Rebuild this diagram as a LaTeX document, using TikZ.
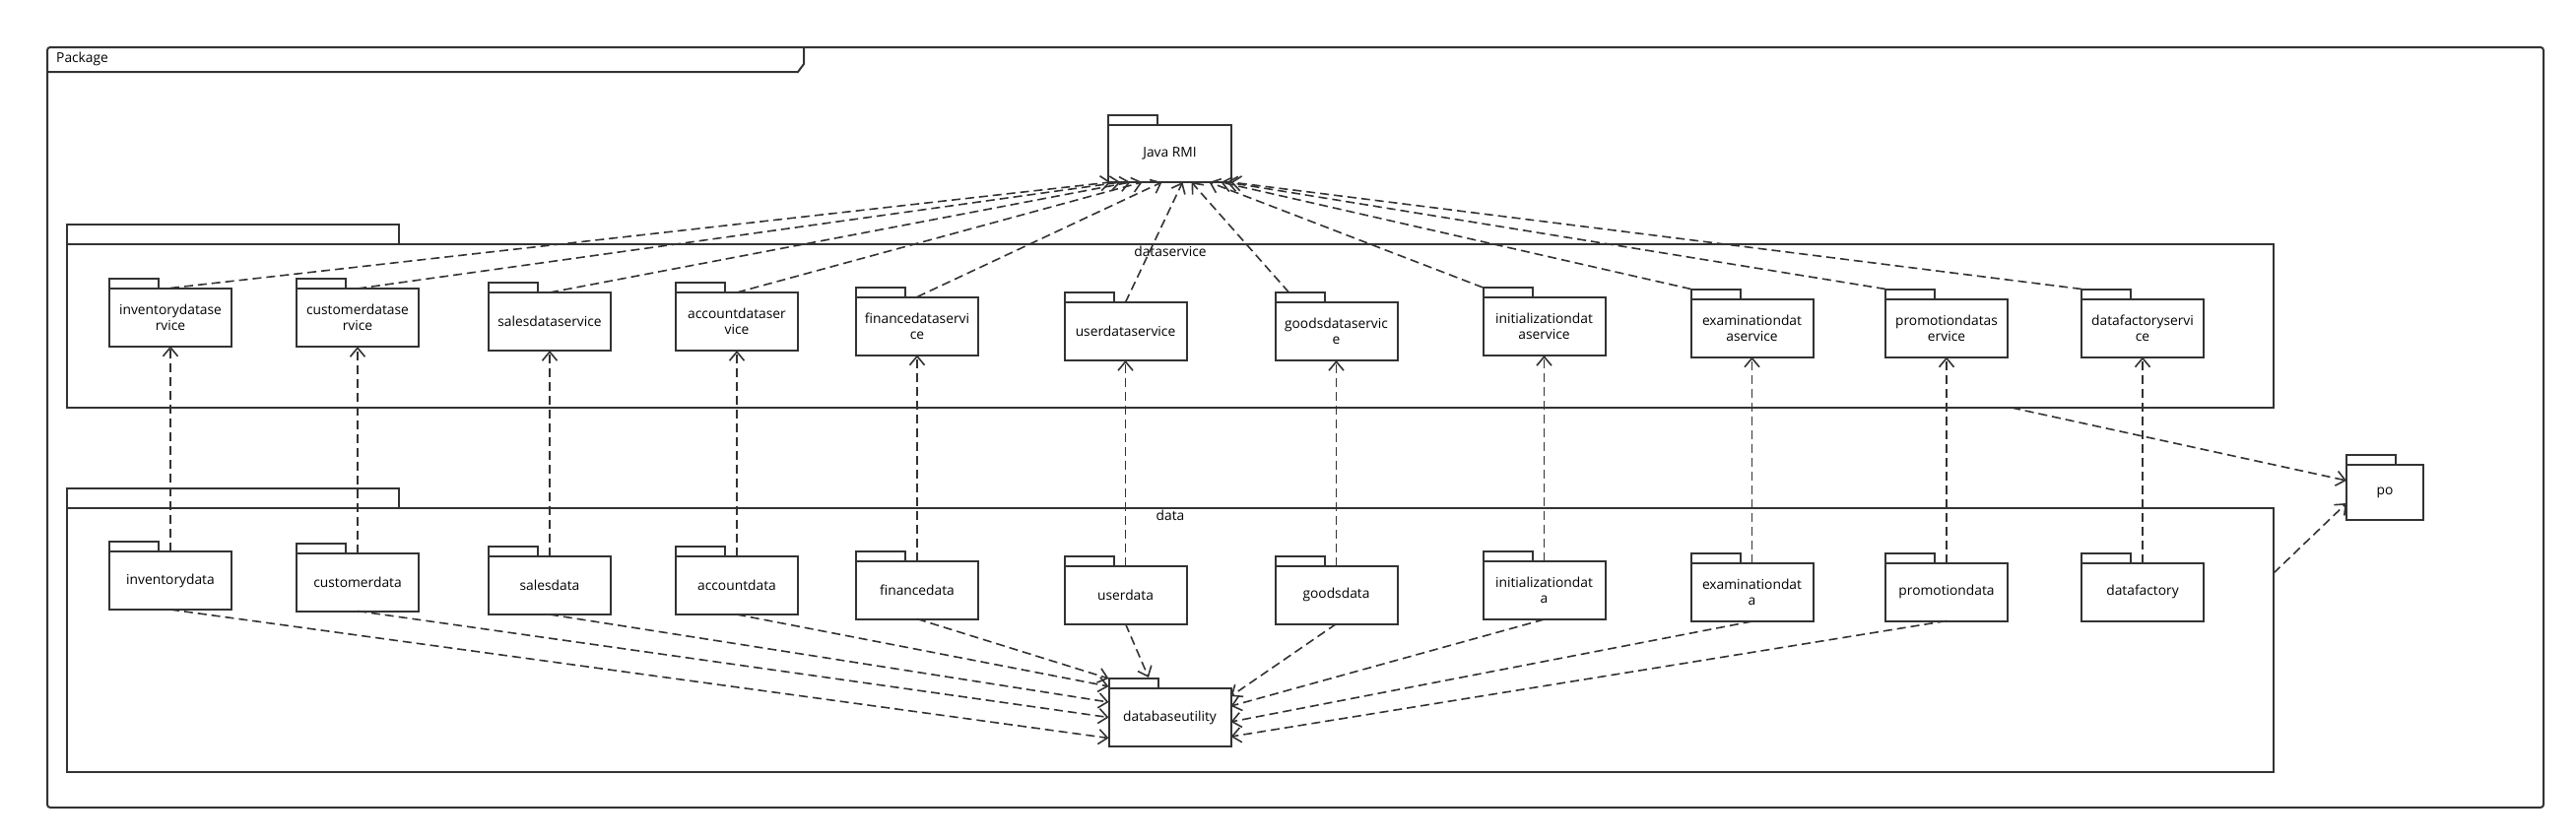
\documentclass[tikz,border=0pt]{standalone}
\usepackage{fontspec}
\setmainfont{Open Sans}
\usetikzlibrary{arrows.meta}
\tikzset{
    pkg/.style={
           rectangle,
           draw=black!80, line width=2pt,
           minimum width=124pt, minimum height=59pt,
           inner sep=2pt, outer sep=0pt,
           align=center,
           font=\fontsize{13.8}{16}\selectfont,
           },
}
\tikzset{
    grp/.style={
           rectangle,
           draw=black!80, line width=2pt,
           minimum width=2240pt,
           inner sep=0pt, outer sep=0pt,
           },
}
\tikzset{
    tab/.style={
           draw=black!80, line width=2pt,
           },
}
\tikzset{
    dep/.style={
           draw=black!80, line width=1.6pt,
           dash pattern=on 9pt off 5pt,
           -{Straight Barb[length=9pt,width=15pt]},
           },
}

\begin{document}
\begin{tikzpicture}[x=1pt,y=-1pt]
\useasboundingbox (0,0) rectangle (2615,852);
\draw[tab,rounded corners=3pt] (48,48) rectangle (2582,820);
\draw[tab] (48,73) -- (810,73) -- (816,65) -- (816,48);
\node[anchor=west,inner sep=0pt,font=\fontsize{13.8}{16}\selectfont](pkgname) at (57,60){Package};
% the two layers
\node[grp,minimum height=166pt,label={[anchor=north,inner sep=2pt,font=\fontsize{13.8}{16}\selectfont]north:dataservice}](dsp) at (1188,331){};
\node[grp,minimum height=268pt,label={[anchor=north,inner sep=2pt,font=\fontsize{13.8}{16}\selectfont]north:data}](dp) at (1188,650){};
\draw[tab] (68,228) rectangle (405,248);
\draw[tab] (68,496) rectangle (405,516);
% packages
\node[pkg,minimum width=125pt,minimum height=58pt](rmi) at (1187.5,156){Java RMI};
\node[pkg](ids) at (173,322){inventorydatase\\rvice};
\node[pkg](cds) at (363,322.5){customerdatase\\rvice};
\node[pkg](sds) at (558,326.5){salesdataservice};
\node[pkg](ads) at (748,326.5){accountdataser\\vice};
\node[pkg](fds) at (931,331){financedataservi\\ce};
\node[pkg](uds) at (1142.5,336.5){userdataservice};
\node[pkg](gds) at (1356.5,336.5){goodsdataservic\\e};
\node[pkg](ins) at (1567.5,331.5){initializationdat\\aservice};
\node[pkg](eds) at (1778.5,333){examinationdat\\aservice};
\node[pkg](pds) at (1976,333){promotiondatas\\ervice};
\node[pkg](dfs) at (2175,333){datafactoryservi\\ce};
\node[pkg](idt) at (173,589.5){inventorydata};
\node[pkg](cdt) at (363,591){customerdata};
\node[pkg](sdt) at (558,594.5){salesdata};
\node[pkg](adt) at (748,594.5){accountdata};
\node[pkg](fdt) at (931,599){financedata};
\node[pkg](udt) at (1142.5,604){userdata};
\node[pkg](gdt) at (1356.5,604){goodsdata};
\node[pkg](indt) at (1567.5,599.5){initializationdat\\a};
\node[pkg](edt) at (1778.5,601.5){examinationdat\\a};
\node[pkg](pdt) at (1976,601){promotiondata};
\node[pkg](dft) at (2175,601){datafactory};
\node[pkg](dbu) at (1187.5,728.5){databaseutility};
\node[pkg,minimum width=78pt,minimum height=56pt](po) at (2421,500){po};
\foreach \n in {rmi,ids,cds,sds,ads,fds,uds,gds,ins,eds,pds,dfs,idt,cdt,sdt,adt,fdt,udt,gdt,indt,edt,pdt,dft,dbu,po}
    \draw[tab] (\n.north west) rectangle ++(50pt,10pt);
% dataservice -> Java RMI
\path (ids.north) edge[dep] ([xshift=-60pt]rmi.south);
\path (cds.north) edge[dep] ([xshift=-50pt]rmi.south);
\path (sds.north) edge[dep] ([xshift=-40pt]rmi.south);
\path (ads.north) edge[dep] ([xshift=-28pt]rmi.south);
\path (fds.north) edge[dep] ([xshift=-8pt]rmi.south);
\path (uds.north) edge[dep] ([xshift=13pt]rmi.south);
\path ([xshift=14pt,yshift=10pt]gds.north west) edge[dep] ([xshift=22pt]rmi.south);
\path ([yshift=10pt]ins.north west) edge[dep] ([xshift=40pt]rmi.south);
\path ([yshift=10pt]eds.north west) edge[dep] ([xshift=52pt]rmi.south);
\path ([yshift=10pt]pds.north west) edge[dep] ([xshift=58pt]rmi.south);
\path ([yshift=10pt]dfs.north west) edge[dep] ([xshift=62pt]rmi.south);
% data -> dataservice
\path (idt.north) edge[dep] (ids.south);
\path (cdt.north) edge[dep] (cds.south);
\path (sdt.north) edge[dep] (sds.south);
\path (adt.north) edge[dep] (ads.south);
\path (fdt.north) edge[dep] (fds.south);
\path (udt.north) edge[dep] (uds.south);
\path (gdt.north) edge[dep] (gds.south);
\path (indt.north) edge[dep] (ins.south);
\path (edt.north) edge[dep] (eds.south);
\path (pdt.north) edge[dep] (pds.south);
\path (dft.north) edge[dep] (dfs.south);
% data -> databaseutility
\path (idt.south) edge[dep] ([yshift=-21pt]dbu.west);
\path (cdt.south) edge[dep] (dbu.west);
\path (sdt.south) edge[dep] ([yshift=15.5pt]dbu.west);
\path (adt.south) edge[dep] ([yshift=31.5pt]dbu.west);
\path (fdt.south) edge[dep] ([yshift=39.5pt]dbu.west);
\path (udt.south) edge[dep] ([xshift=-21.5pt,yshift=11pt]dbu.north);
\path (gdt.south) edge[dep] ([yshift=21.5pt]dbu.east);
\path (indt.south) edge[dep] ([yshift=11.5pt]dbu.east);
\path (edt.south) edge[dep] ([yshift=-4.5pt]dbu.east);
\path (pdt.south) edge[dep] ([yshift=-19.5pt]dbu.east);
% layers -> po
\path ([xshift=-266pt]dsp.south east) edge[dep] ([yshift=12pt]po.west);
\path ([yshift=68pt]dp.east) edge[dep] ([yshift=-11pt]po.west);
\end{tikzpicture}
\end{document}
